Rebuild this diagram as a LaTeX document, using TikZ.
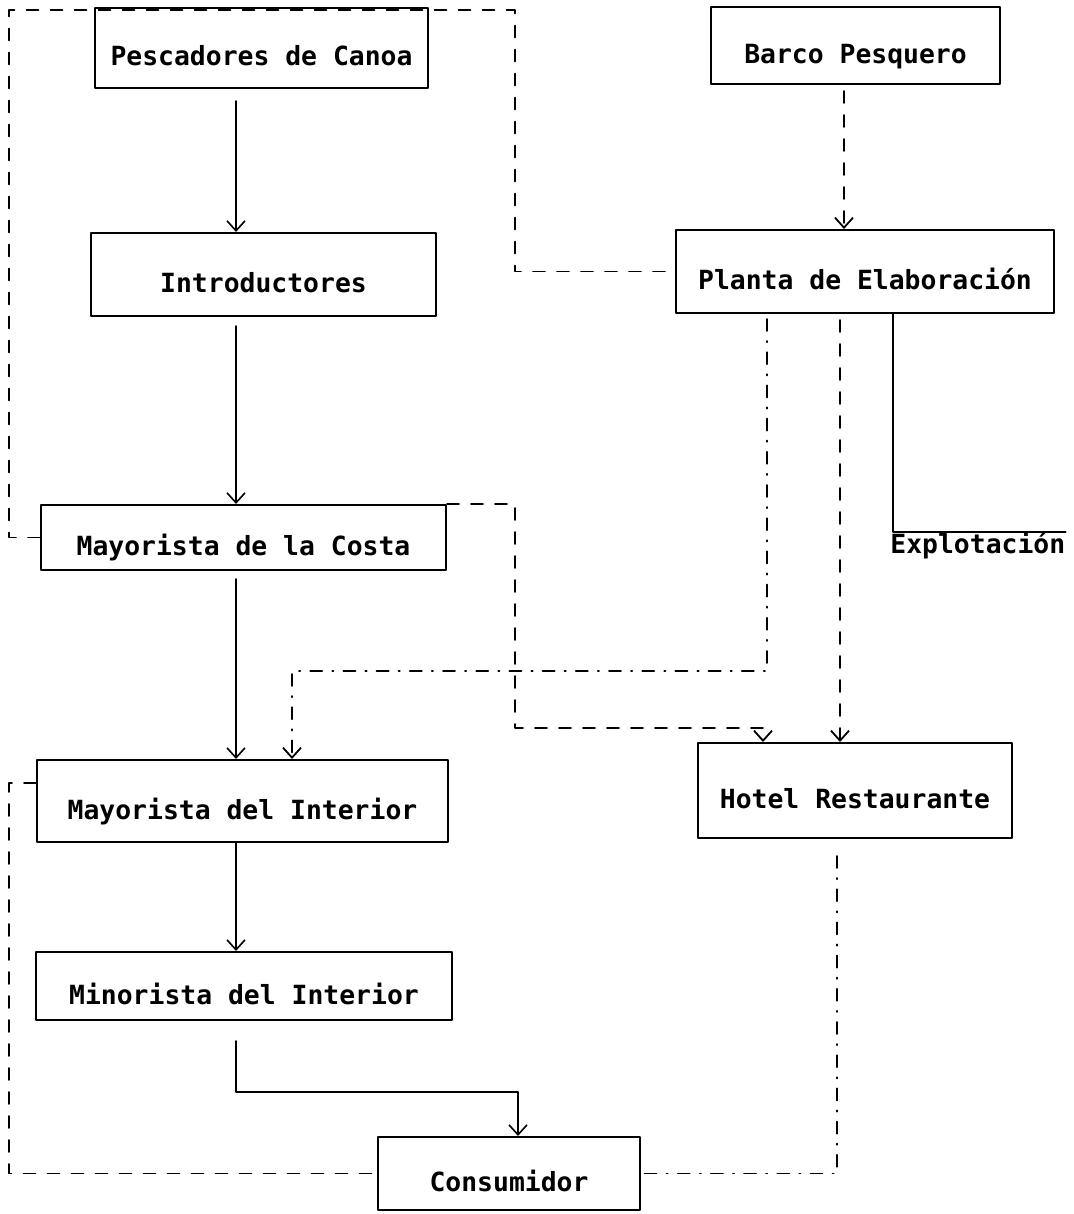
\documentclass[tikz,border=0pt]{standalone}
\usepackage{fontspec}
\setmonofont{DejaVu Sans Mono}
\usepackage{tikz}
\usetikzlibrary{arrows,arrows.meta}

\begin{document}
\begin{tikzpicture}[line cap=round,line join=round,>={Straight Barb[length=5pt,width=9pt]},x=0.5pt,y=-0.5pt,
caja/.style={draw,line width=1pt,inner sep=0pt,text height=21pt,text depth=3pt,font=\ttfamily\bfseries\fontsize{13.2}{15}\selectfont},
flujo/.style={->,line width=0.8pt},
trazo/.style={line width=0.9pt,dash pattern=on 6pt off 6pt},
trazopunto/.style={line width=0.9pt,dash pattern=on 6pt off 5pt on 0.6pt off 5pt}]
\useasboundingbox (0,0) rectangle (1074,1214);
\node[caja,minimum width=166.5pt,minimum height=40pt] (pesc) at (261.5,48) {Pescadores de Canoa};
\node[caja,minimum width=144.5pt,minimum height=38.5pt] (barco) at (855.5,45.5) {Barco Pesquero};
\node[caja,minimum width=172.5pt,minimum height=41.5pt] (intro) at (263.5,274.5) {Introductores};
\node[caja,minimum width=189pt,minimum height=41.5pt] (planta) at (865,271.5) {Planta de Elaboración};
\node[caja,minimum width=202.5pt,minimum height=32.5pt] (costa) at (243.5,537.5) {Mayorista de la Costa};
\node[caja,minimum width=205.5pt,minimum height=41pt] (interior) at (242.5,801) {Mayorista del Interior};
\node[caja,minimum width=157pt,minimum height=47.5pt] (hotel) at (855,790.5) {Hotel Restaurante};
\node[caja,minimum width=208pt,minimum height=34pt] (minor) at (244,986) {Minorista del Interior};
\node[caja,minimum width=131pt,minimum height=36.5pt] (consu) at (509,1173.5) {Consumidor};
\node[font=\ttfamily\bfseries\fontsize{13.2}{15}\selectfont,anchor=north west,inner sep=0pt] (explot) at (890,532) {Explotación};
\coordinate (colA) at (236,0);
\coordinate (colB) at (844,0);
\coordinate (colC) at (763,0);
\coordinate (colD) at (767,0);
\coordinate (colH) at (840,0);
\coordinate (colX) at (893,0);
\coordinate (colR) at (837,0);
\coordinate (colF) at (518,0);
\coordinate (esqA) at (9,10);
\coordinate (esqB) at (515,10);
\coordinate (esqE) at (9,1173.5);
\coordinate (giroC) at (515,728);
\coordinate (giroD) at (292,671);
\coordinate (giroF) at (236,1092);
\draw[flujo,shorten <=6pt] (pesc.south -| colA) -- (intro.north -| colA);
\draw[flujo,shorten <=4.5pt] (intro.south -| colA) -- (costa.north -| colA);
\draw[flujo,shorten <=4pt] (costa.south -| colA) -- (interior.north -| colA);
\draw[flujo] (interior.south -| colA) -- (minor.north -| colA);
\draw[flujo,shorten <=10pt] (minor.south -| colA) -- (giroF) -| (consu.north -| colF);
\draw[trazo,->,shorten <=3pt] (barco.south -| colB) -- (planta.north -| colB);
\draw[trazo] (costa.west) -| (esqA) -- (esqB) |- (planta.west);
\draw[trazo,->] (costa.north east) -| (giroC) -| (hotel.north -| colC);
\draw[trazopunto,->,shorten <=2.5pt] (planta.south -| colD) |- (giroD) -- (interior.north -| giroD);
\draw[trazo,->,shorten <=3pt] (planta.south -| colH) -- (hotel.north -| colH);
\draw[line width=1pt] (planta.south -| colX) |- (explot.north east);
\draw[trazo] ([yshift=9pt]interior.west) -| (esqE) -- (consu.west);
\draw[trazopunto,shorten <=8.5pt] (hotel.south -| colR) |- (consu.east);
\end{tikzpicture}
\end{document}
